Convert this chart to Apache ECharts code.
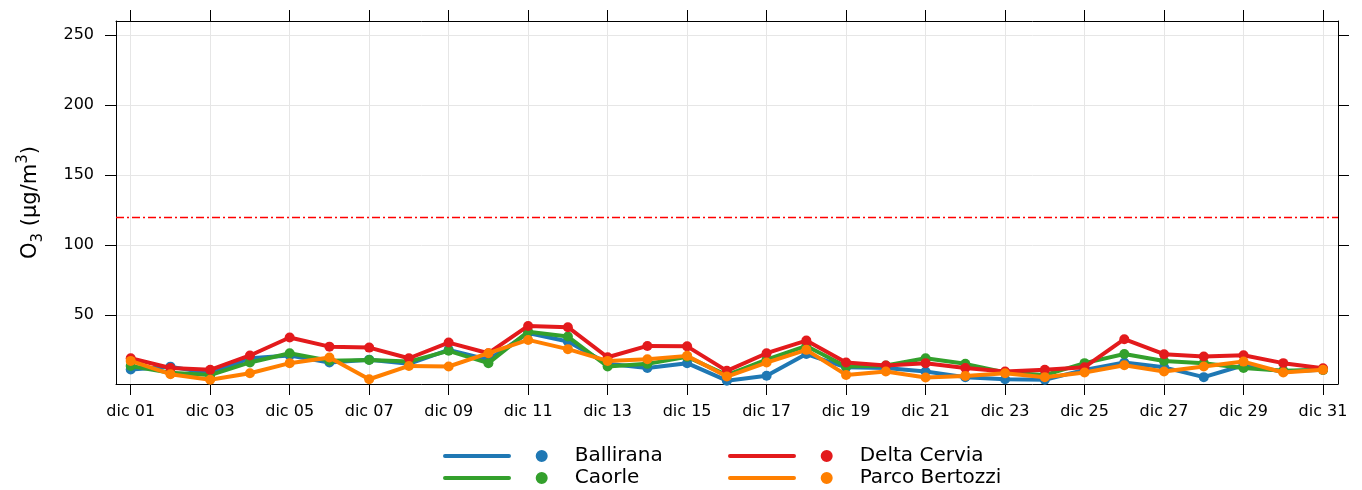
<!DOCTYPE html>
<html>
<head>
<meta charset="utf-8">
<script src="https://cdn.jsdelivr.net/npm/echarts@6/dist/echarts.min.js"></script>
<style>
  html, body { margin: 0; padding: 0; background: #fff; }
  #chart { width: 1362px; height: 490px; }
</style>
</head>
<body>
<div id="chart"></div>
<script>
// days of December (x positions)
const days = [1,2,3,4,5,6,7,8,9,10,11,12,13,14,15,16,17,18,19,20,21,22,23,24,25,26,27,28,29,30,31];

// O3 daily values (µg/m3)
const ballirana = [11, 13, 8, 19, 21, 16, 18, 15, 25, 18, 37, 31, 15, 12, 15.5, 3, 6.5, 22, 12.5, 12, 9.5, 5.5, 4, 3.6, 10.7, 16, 12.5, 5.5, 14, 9.5, 10.7];
const caorle = [13.5, 8.6, 7, 16, 22.6, 17.3, 17.8, 16.6, 24.3, 15.5, 38, 34.5, 13.1, 15, 20, 7, 18, 27.8, 13.1, 13.8, 19, 15, 8.8, 7, 15.5, 22, 17, 15.5, 12, 10, 10.7];
const deltaCervia = [19, 12, 10.7, 21, 33.8, 27.3, 26.6, 19, 30.2, 22.6, 42.1, 41.2, 19.7, 27.8, 27.5, 10, 22.6, 31.6, 15.9, 13.8, 15.5, 12, 9.5, 10.7, 12.6, 32.6, 21.9, 20.2, 21.2, 15.5, 11.9];
const parcoBertozzi = [17.1, 7.6, 3.6, 8.3, 15.5, 19.5, 4, 13.5, 13.1, 22.6, 32.1, 25.5, 17.1, 18.3, 20.7, 5.9, 15.9, 25, 7.1, 9.5, 5.2, 6.4, 8.3, 5.5, 8.8, 14, 9.5, 13.1, 16.6, 8.8, 10.7];

const stationNames = ['Ballirana', 'Caorle', 'Delta Cervia', 'Parco Bertozzi'];
const stationColors = ['#1f78b4', '#33a02c', '#e31a1c', '#ff7f00'];
const stationValues = [ballirana, caorle, deltaCervia, parcoBertozzi];

// axis ticks
const tickDays = [1,3,5,7,9,11,13,15,17,19,21,23,25,27,29,31];
const tickLabels = ['dic 01','dic 03','dic 05','dic 07','dic 09','dic 11','dic 13','dic 15',
  'dic 17','dic 19','dic 21','dic 23','dic 25','dic 27','dic 29','dic 31'];
const yTicks = [50, 100, 150, 200, 250];
const limitValue = 120;

const FONT = 'DejaVu Sans';
// legend icon: line segment + dot
const legendIcon = 'path://M2,4 L66,4 A2,2 0 0 1 66,8 L2,8 A2,2 0 0 1 2,4 Z M92.7,6 A6,6 0 1 0 104.7,6 A6,6 0 1 0 92.7,6 Z';
const limitStyle = { color: '#ff0000', width: 1.3, type: [8, 3, 2, 3], opacity: 1 };

const chart = echarts.init(document.getElementById('chart'), null, { renderer: 'canvas' });

const xCommon = {
  type: 'value',
  min: 0.63,
  max: 31.377,
  axisLine: { show: true, onZero: false, lineStyle: { color: '#000', width: 1 } },
  axisTick: { show: true, inside: false, length: 11, customValues: tickDays, lineStyle: { color: '#000' } }
};
const yCommon = {
  type: 'value',
  min: 0.6,
  max: 260,
  axisLine: { show: true, onZero: false, lineStyle: { color: '#000', width: 1 } },
  axisTick: { show: true, inside: false, length: 11, customValues: yTicks, lineStyle: { color: '#000' } }
};

const series = stationNames.map((name, i) => ({
  name: name,
  type: 'line',
  data: days.map((d, j) => [d, stationValues[i][j]]),
  xAxisIndex: 0,
  yAxisIndex: 0,
  symbol: 'circle',
  symbolSize: 10,
  showSymbol: true,
  color: stationColors[i],
  lineStyle: { width: 4, color: stationColors[i] },
  itemStyle: { color: stationColors[i], borderWidth: 0 },
  emphasis: { disabled: true },
  z: 2 + i
}));

// threshold line
series[2].markLine = {
  silent: true,
  symbol: ['none', 'none'],
  label: { show: false },
  lineStyle: limitStyle,
  emphasis: { disabled: true },
  data: [{ yAxis: limitValue, lineStyle: limitStyle }]
};

const legendBase = {
  orient: 'vertical',
  top: 446,
  padding: 0,
  itemGap: 2,
  icon: legendIcon,
  itemWidth: 104.7,
  itemHeight: 12,
  itemStyle: { borderWidth: 0 },
  selectedMode: false,
  textStyle: { fontFamily: FONT, fontSize: 20, color: '#000', padding: [0, 0, 0, 22] }
};

chart.setOption({
  animation: false,
  backgroundColor: '#fff',
  grid: { left: 116, right: 24, top: 21, bottom: 106 },
  legend: [
    Object.assign({}, legendBase, { left: 443, data: ['Ballirana', 'Caorle'] }),
    Object.assign({}, legendBase, { left: 728, data: ['Delta Cervia', 'Parco Bertozzi'] })
  ],
  xAxis: [
    Object.assign({}, xCommon, {
      position: 'bottom',
      axisLabel: {
        show: true, margin: 20, customValues: tickDays,
        fontFamily: FONT, fontSize: 16, color: '#000',
        formatter: v => tickLabels[tickDays.indexOf(Math.round(v))]
      },
      splitLine: { show: true, lineStyle: { color: '#e6e6e6', width: 1 } }
    }),
    Object.assign({}, xCommon, {
      position: 'top',
      axisLabel: { show: false },
      splitLine: { show: false }
    })
  ],
  yAxis: [
    Object.assign({}, yCommon, {
      position: 'left',
      name: '{b|O}{sub|3}{b| (µg/m}{sup|3}{b|)}',
      nameLocation: 'middle',
      nameGap: 70,
      nameTextStyle: {
        fontFamily: FONT, fontSize: 21, color: '#000',
        rich: {
          b: { fontFamily: FONT, fontSize: 21, lineHeight: 30, verticalAlign: 'middle', color: '#000' },
          sub: { fontFamily: FONT, fontSize: 15, lineHeight: 15, verticalAlign: 'bottom', color: '#000' },
          sup: { fontFamily: FONT, fontSize: 15, lineHeight: 15, verticalAlign: 'top', color: '#000' }
        }
      },
      axisLabel: {
        show: true, margin: 22, customValues: yTicks,
        fontFamily: FONT, fontSize: 16, color: '#000'
      },
      splitLine: { show: true, lineStyle: { color: '#e6e6e6', width: 1 } }
    }),
    Object.assign({}, yCommon, {
      position: 'right',
      axisLabel: { show: false },
      splitLine: { show: false }
    })
  ],
  series: series
});
</script>
</body>
</html>
